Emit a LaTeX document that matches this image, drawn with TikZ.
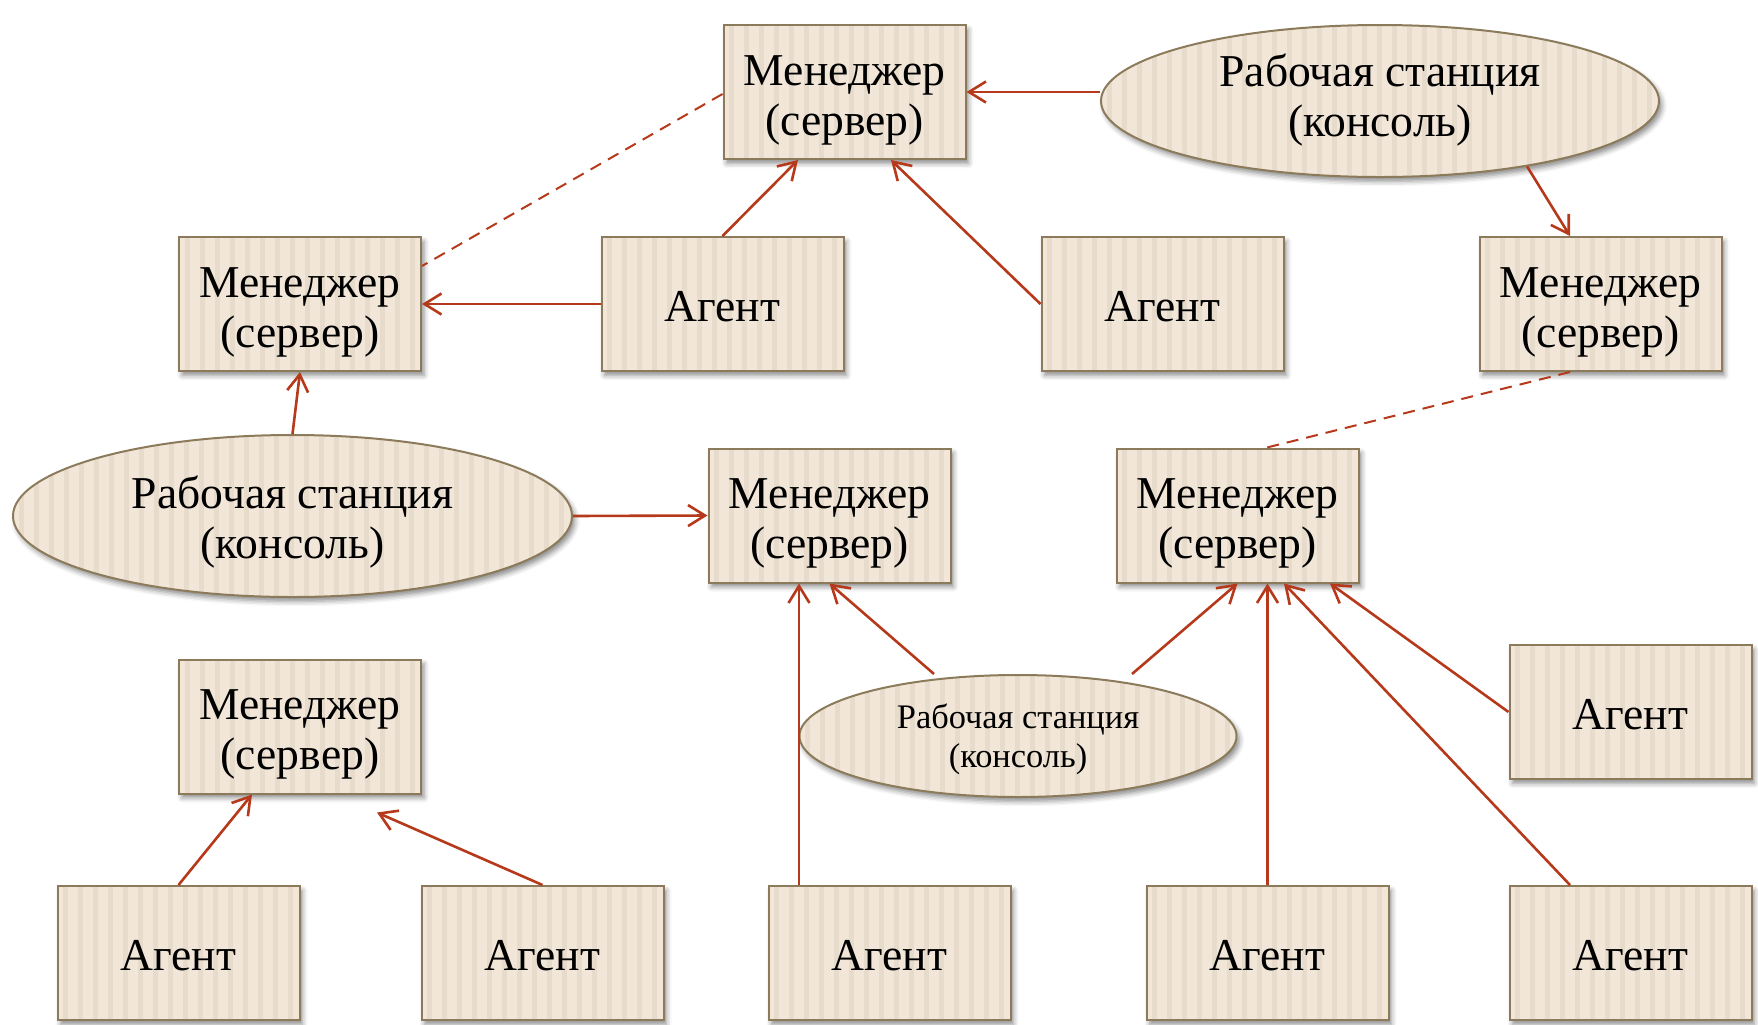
\documentclass[tikz,border=0pt]{standalone}
\usepackage{fontspec}
\setmainfont{Liberation Serif}
\usetikzlibrary{arrows.meta,shapes.geometric,shadows.blur}
\definecolor{boxfill}{HTML}{F1E6D8}
\definecolor{stripec}{HTML}{E7DBCB}
\definecolor{boxborder}{HTML}{8C7B5B}
\definecolor{arrowc}{HTML}{B5391A}
\newcommand\twoline[3]{\raisebox{#1}[\height][\depth]{\begin{tabular}{@{}c@{}}#2\\#3\end{tabular}}}
\newcommand\mgr{\twoline{-4.2pt}{Менеджер}{(сервер)}}
\newcommand\agt{\raisebox{-1.1pt}[\height][\depth]{Агент}}
\tikzset{
  stripes/.style={path picture={
    \foreach \k in {0,...,40}{
      \draw[stripec, line width=2.5pt]
        ([xshift=\k*7.5pt+4pt]path picture bounding box.south west) --
        ([xshift=\k*7.5pt+4pt]path picture bounding box.north west);
    }}},
  shade box/.style={blur shadow={shadow xshift=1.5pt, shadow yshift=-2.2pt,
    shadow blur radius=2.5pt, shadow opacity=45}},
  box/.style={draw=boxborder, line width=1pt, fill=boxfill, stripes, shade box,
    minimum width=121pt, minimum height=67pt, inner sep=0pt,
    text=black, font=\fontsize{22.8}{25}\selectfont},
  ws/.style={ellipse, draw=boxborder, line width=1pt, fill=boxfill, stripes, shade box,
    inner sep=0pt, text=black, font=\fontsize{22.8}{25}\selectfont},
  wssmall/.style={ws, font=\fontsize{17.2}{19.5}\selectfont},
  link/.style={draw=arrowc, line width=1.3pt,
    -{Straight Barb[length=8.5pt,width=10.5pt,line width=1.3pt]}},
  dashlink/.style={draw=arrowc, line width=1pt, dash pattern=on 6pt off 4pt},
}
\begin{document}
\begin{tikzpicture}[x=0.5pt,y=-0.5pt]
\useasboundingbox (0,0) rectangle (1758,1024);
% managers
\node[box] (M1) at (844.5,92) {\mgr};
\node[box] (M2) at (300,304) {\mgr};
\node[box] (M3) at (1600.5,304) {\mgr};
\node[box] (M4) at (829.5,515.5) {\mgr};
\node[box] (M5) at (1237.5,515.5) {\mgr};
\node[box] (M6) at (300,726.5) {\mgr};
% agents
\node[box] (A1) at (722.5,304) {\agt};
\node[box] (A2) at (1162.5,304) {\agt};
\node[box] (A3) at (1630.5,712) {\agt};
\node[box] (A4) at (178.5,953) {\agt};
\node[box] (A5) at (542.5,953) {\agt};
\node[box] (A6) at (889.5,953) {\agt};
\node[box] (A7) at (1267.5,953) {\agt};
\node[box] (A8) at (1630.5,953) {\agt};
% workstations
\node[ws, minimum width=279pt, minimum height=76pt] (E1) at (1380,101)
  {\twoline{0pt}{Рабочая станция}{(консоль)}};
\node[ws, minimum width=279.5pt, minimum height=81pt] (E2) at (292.5,516)
  {\twoline{-3.6pt}{Рабочая станция}{(консоль)}};
\node[wssmall, minimum width=218.5pt, minimum height=61pt] (E3) at (1018,736)
  {\twoline{-2.2pt}{Рабочая станция}{(консоль)}};
% connectors
\draw[link] (E1.west |- M1.east) -- (M1.east);
\draw[link] (E1.-24) -- ([xshift=-15.25pt]M3.north);
\draw[dashlink] ([yshift=-1pt]M1.west) -- ([yshift=19pt]M2.east);
\draw[link] (A1.north) -- ([xshift=-23.25pt]M1.south);
\draw[link] (A2.west) -- ([xshift=23.25pt]M1.south);
\draw[link] (A1.west) -- (M2.east);
\draw[link] (E2.north) -- (M2.south);
\draw[link] (E2.east) -- (M4.west);
\draw[dashlink] ([xshift=-15.25pt]M3.south) -- ([xshift=14.75pt]M5.north);
\draw[link] ([xshift=-42pt]E3.north) -- (M4.south);
\draw[link] ([xshift=57pt]E3.north) -- (M5.south);
\draw[link] ([xshift=-45.25pt]A6.north) -- ([xshift=-15.25pt]M4.south);
\draw[link] (A7.north) -- ([xshift=15pt]M5.south);
\draw[link] ([xshift=-30.25pt]A8.north) -- ([xshift=23.25pt]M5.south);
\draw[link] (A3.west) -- ([xshift=46.25pt]M5.south);
\draw[link] (A4.north) -- ([xshift=-24pt]M6.south);
\draw[link] (A5.north) -- ([xshift=38.5pt,yshift=-9pt]M6.south);
\end{tikzpicture}
\end{document}
